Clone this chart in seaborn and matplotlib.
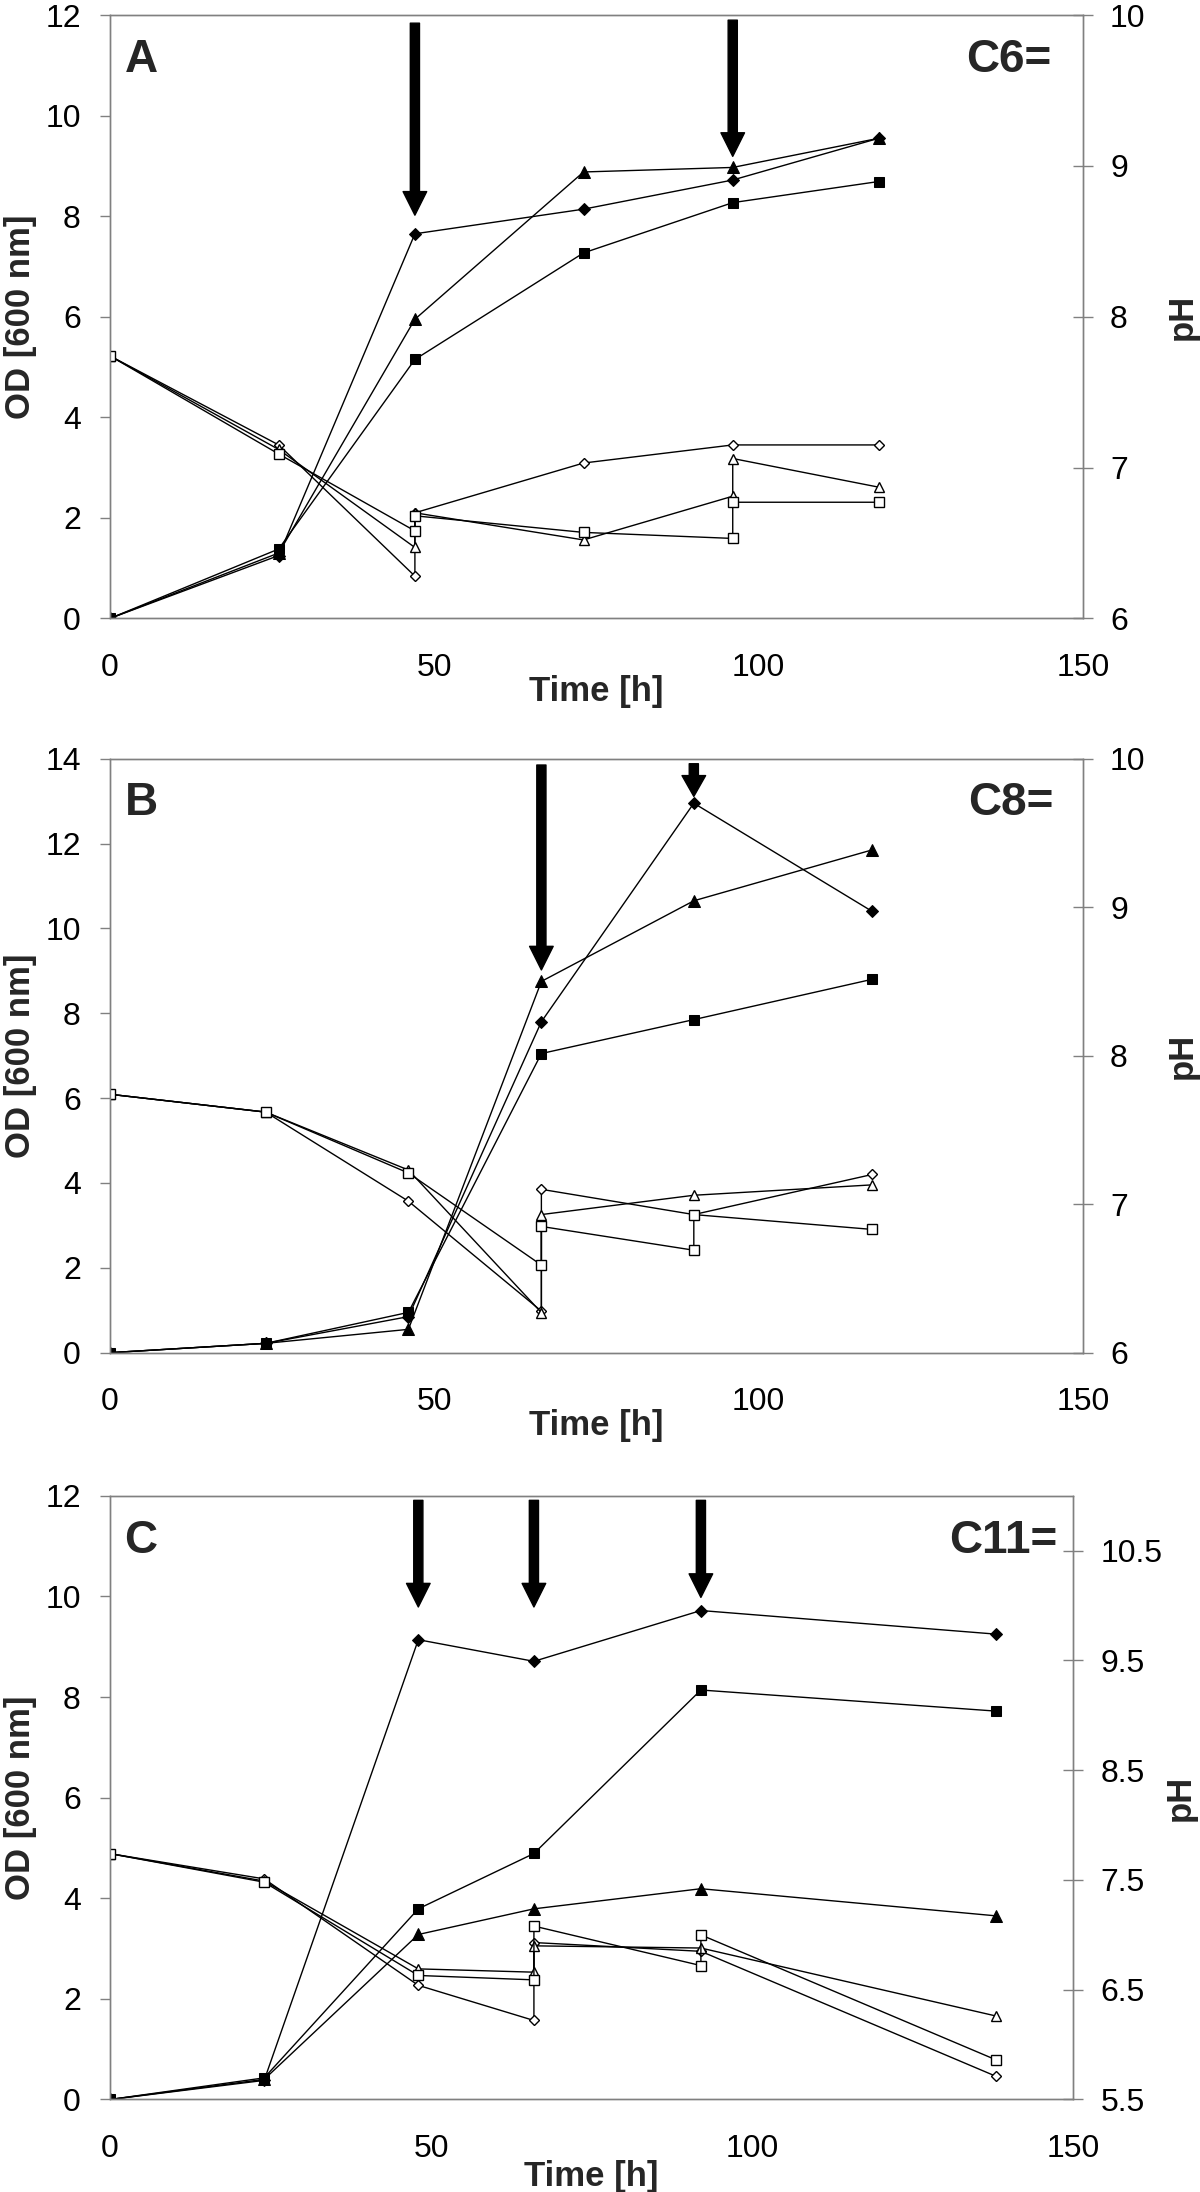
import matplotlib
matplotlib.use('Agg')
import matplotlib.pyplot as plt
import seaborn as sns

sns.set_style('white')
plt.rcParams['font.family'] = ['Liberation Sans', 'DejaVu Sans']

## panel A (C6=)
time_a = [0, 26, 47, 73, 96, 118.5]
od_a_diamond = [0, 1.25, 7.65, 8.14, 8.72, 9.55]
od_a_triangle = [0, 1.30, 5.95, 8.88, 8.97, 9.55]
od_a_square = [0, 1.38, 5.15, 7.27, 8.27, 8.69]
ph_a_diamond_t = [0, 26, 47, 47, 73, 96, 118.5]
ph_a_diamond = [7.74, 7.15, 6.28, 6.70, 7.03, 7.15, 7.15]
ph_a_triangle_t = [0, 26, 47, 47, 73, 96, 96, 118.5]
ph_a_triangle = [7.74, 7.12, 6.47, 6.70, 6.52, 6.81, 7.06, 6.87]
ph_a_square_t = [0, 26, 47, 47, 73, 96, 96, 118.5]
ph_a_square = [7.74, 7.09, 6.58, 6.68, 6.57, 6.53, 6.77, 6.77]
arrows_a = [(47, 11.84, 8.02), (96, 11.9, 9.19)]

## panel B (C8=)
time_b = [0, 24, 46, 66.5, 90, 117.5]
od_b_diamond = [0, 0.22, 0.85, 7.80, 12.95, 10.40]
od_b_triangle = [0, 0.22, 0.55, 8.75, 10.65, 11.85]
od_b_square = [0, 0.22, 0.95, 7.05, 7.85, 8.80]
ph_b_diamond_t = [0, 24, 46, 66.5, 66.5, 90, 117.5]
ph_b_diamond = [7.74, 7.62, 7.02, 6.28, 7.10, 6.93, 7.20]
ph_b_triangle_t = [0, 24, 46, 66.5, 66.5, 90, 117.5]
ph_b_triangle = [7.74, 7.62, 7.23, 6.27, 6.93, 7.06, 7.13]
ph_b_square_t = [0, 24, 46, 66.5, 66.5, 90, 90, 117.5]
ph_b_square = [7.74, 7.62, 7.21, 6.59, 6.85, 6.69, 6.93, 6.83]
arrows_b = [(66.5, 13.85, 9.02), (90, 13.88, 13.11)]

## panel C (C11=)
time_c = [0, 24, 48, 66, 92, 138]
od_c_diamond = [0, 0.38, 9.14, 8.71, 9.72, 9.25]
od_c_triangle = [0, 0.40, 3.28, 3.79, 4.19, 3.65]
od_c_square = [0, 0.43, 3.79, 4.89, 8.14, 7.72]
ph_c_diamond_t = [0, 24, 48, 66, 66, 92, 138]
ph_c_diamond = [7.74, 7.51, 6.54, 6.22, 6.93, 6.85, 5.71]
ph_c_triangle_t = [0, 24, 48, 66, 66, 92, 138]
ph_c_triangle = [7.74, 7.49, 6.69, 6.66, 6.90, 6.88, 6.26]
ph_c_square_t = [0, 24, 48, 66, 66, 92, 92, 138]
ph_c_square = [7.74, 7.48, 6.63, 6.59, 7.08, 6.72, 7.00, 5.86]
arrows_c = [(48, 11.91, 9.79), (66, 11.91, 9.79), (92, 11.91, 9.98)]

GRAY = '#808080'


def draw_panel(rect, t, od, ph, od_max, od_step, ph_lim, ph_ticks, letter, tag,
               tag_x, arrows, xlab_y, ph_lab_x):
    ax = fig.add_axes(rect)
    ax2 = ax.twinx()

    filled = {'D': 6, '^': 8, 's': 7.5}
    for m, y in od.items():
        sns.lineplot(x=t, y=y, ax=ax, color='black', linewidth=1.0, marker=m,
                     markersize=filled[m], markerfacecolor='black',
                     markeredgecolor='black', sort=False, estimator=None)
    opened = {'D': 5.5, '^': 6.5, 's': 7}
    for m, (tt, y) in ph.items():
        sns.lineplot(x=tt, y=y, ax=ax2, color='black', linewidth=1.0, marker=m,
                     markersize=opened[m], markerfacecolor='white',
                     markeredgecolor='black', markeredgewidth=1.0,
                     sort=False, estimator=None)

    ax.set_xlim(0, 150)
    ax.set_xticks([0, 50, 100, 150])
    ax.set_ylim(0, od_max)
    ax.set_yticks(range(0, od_max + 1, od_step))
    ax2.set_ylim(*ph_lim)
    ax2.set_yticks(ph_ticks)
    ax2.set_yticklabels([f'{v:g}' for v in ph_ticks])

    for a in (ax, ax2):
        for s in a.spines.values():
            s.set_color(GRAY)
            s.set_linewidth(1.0)
    ax.tick_params(axis='x', direction='out', length=7, width=1, colors=GRAY,
                   labelcolor='black', labelsize=23, pad=18)
    ax.tick_params(axis='y', direction='out', length=7, width=1, colors=GRAY,
                   labelcolor='black', labelsize=23, pad=14)
    ax2.tick_params(axis='y', direction='inout', length=15, width=1, colors=GRAY,
                    labelcolor='black', labelsize=23, pad=12)

    ax.set_xlabel('Time [h]', fontsize=25, fontweight='bold')
    ax.xaxis.label.set_va('center')
    ax.xaxis.set_label_coords(0.5, xlab_y)
    ax.set_ylabel('OD [600 nm]', fontsize=25, fontweight='bold')
    ax.yaxis.label.set_va('center')
    ax.yaxis.set_label_coords(-0.0925, 0.5)
    ax2.set_ylabel('pH', fontsize=25, fontweight='bold', rotation=90)
    ax2.yaxis.label.set_va('center')
    ax2.yaxis.set_label_coords(ph_lab_x, 0.5)

    ax.text(0.015, 0.905, letter, transform=ax.transAxes, fontsize=33,
            fontweight='bold', va='baseline', ha='left')
    ax.text(tag_x, 0.905, tag, transform=ax.transAxes, fontsize=33,
            fontweight='bold', va='baseline', ha='right')

    for x, top, tip in arrows:
        hl = 0.85 if top - tip > 1.5 else 0.75
        ax.annotate('', xy=(x, tip), xytext=(x, top),
                    arrowprops=dict(arrowstyle=f'simple,head_length={hl},head_width=0.85,tail_width=0.33',
                                    mutation_scale=20, color='black',
                                    shrinkA=0, shrinkB=0))
    return ax, ax2


fig = plt.figure(figsize=(12, 21.92), dpi=100)

draw_panel([0.0917, 0.7179, 0.8108, 0.2752], time_a,
           {'D': od_a_diamond, '^': od_a_triangle, 's': od_a_square},
           {'D': (ph_a_diamond_t, ph_a_diamond), '^': (ph_a_triangle_t, ph_a_triangle),
            's': (ph_a_square_t, ph_a_square)},
           12, 2, (6, 10), [6, 7, 8, 9, 10], 'A', 'C6=', 0.968, arrows_a, -0.122, 1.102)

draw_panel([0.0917, 0.3829, 0.8108, 0.2710], time_b,
           {'D': od_b_diamond, '^': od_b_triangle, 's': od_b_square},
           {'D': (ph_b_diamond_t, ph_b_diamond), '^': (ph_b_triangle_t, ph_b_triangle),
            's': (ph_b_square_t, ph_b_square)},
           14, 2, (6, 10), [6, 7, 8, 9, 10], 'B', 'C8=', 0.970, arrows_b, -0.123, 1.102)

draw_panel([0.0917, 0.0422, 0.8028, 0.2754], time_c,
           {'D': od_c_diamond, '^': od_c_triangle, 's': od_c_square},
           {'D': (ph_c_diamond_t, ph_c_diamond), '^': (ph_c_triangle_t, ph_c_triangle),
            's': (ph_c_square_t, ph_c_square)},
           12, 2, (5.5, 11.0), [5.5, 6.5, 7.5, 8.5, 9.5, 10.5], 'C', 'C11=', 0.983,
           arrows_c, -0.128, 1.111)

fig.savefig('out.png', dpi=100)
